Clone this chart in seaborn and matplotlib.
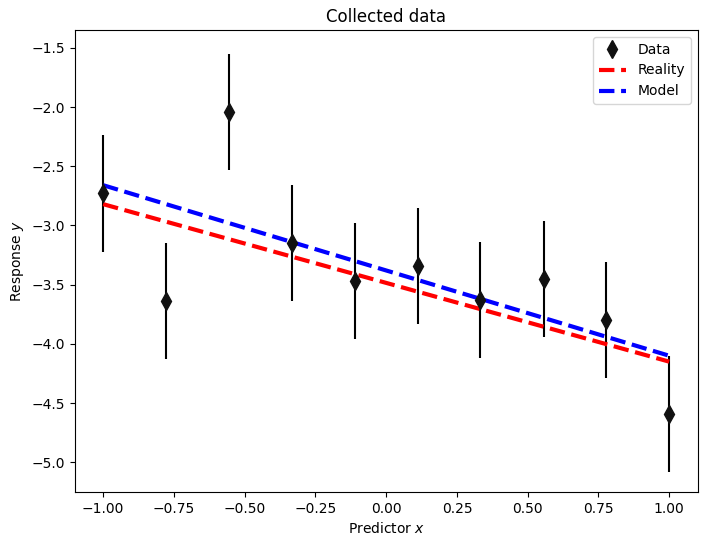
import numpy as np
import matplotlib
matplotlib.use("Agg")
import matplotlib.pyplot as plt
import seaborn as sns
import pandas as pd

# observed points
x_data = [-1.0, -0.778, -0.556, -0.333, -0.111, 0.111, 0.333, 0.556, 0.778, 1.0]
y_data = [-2.73, -3.64, -2.04, -3.15, -3.47, -3.34, -3.63, -3.45, -3.80, -4.59]
y_err = [0.49] * 10

# fitted / true lines (end points)
x_line = [-1.0, 1.0]
y_reality = [-2.82, -4.15]
y_model = [-2.66, -4.10]

df_lines = pd.DataFrame({
    "x": x_line * 2,
    "y": y_reality + y_model,
    "kind": ["Reality"] * 2 + ["Model"] * 2,
})

fig, ax = plt.subplots(figsize=(7.06, 5.46), dpi=100)

ax.errorbar(x_data, y_data, yerr=y_err, fmt="d", color="#111111",
            ecolor="black", markersize=9, elinewidth=1.5, label="Data")
sns.lineplot(data=df_lines, x="x", y="y", hue="kind",
             palette={"Reality": "red", "Model": "blue"},
             linestyle="--", linewidth=3, ax=ax)
for ln in ax.get_lines()[-2:]:
    ln.set_dashes((3.7, 1.6))

ax.set_title("Collected data")
ax.set_xlabel("Predictor $x$")
ax.set_ylabel("Response $y$")
ax.set_ylim(-5.25, -1.35)

# Data first in the legend
handles, labels = ax.get_legend_handles_labels()
order = [labels.index(n) for n in ["Data", "Reality", "Model"]]
ax.legend([handles[i] for i in order], [labels[i] for i in order], loc="upper right")

fig.subplots_adjust(left=0.106, right=0.988, top=0.945, bottom=0.099)
fig.savefig("out.png", dpi=100)
